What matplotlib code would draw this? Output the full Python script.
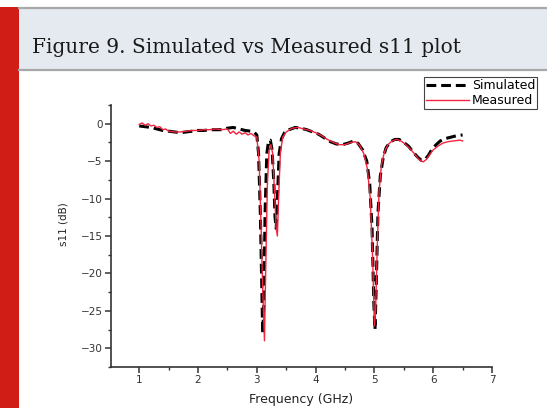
import matplotlib
matplotlib.use("Agg")
import matplotlib.pyplot as plt
from matplotlib.patches import Rectangle
from matplotlib.lines import Line2D
from matplotlib.ticker import MultipleLocator

# ---------------- data ----------------
sim_freq = [1.0, 1.1, 1.2, 1.3, 1.4, 1.5, 1.6, 1.7, 1.8, 1.9, 2.0, 2.1, 2.2, 2.3, 2.4,
            2.5, 2.6, 2.7, 2.8, 2.9, 2.95, 3.0, 3.03, 3.06, 3.08, 3.1, 3.12, 3.14, 3.17,
            3.2, 3.23, 3.26, 3.29, 3.31, 3.33, 3.35, 3.38, 3.42, 3.47, 3.55, 3.65, 3.75,
            3.85, 3.95, 4.05, 4.15, 4.25, 4.35, 4.45, 4.55, 4.65, 4.72, 4.8, 4.87, 4.92,
            4.96, 4.99, 5.01, 5.03, 5.06, 5.1, 5.15, 5.2, 5.27, 5.35, 5.42, 5.5, 5.58,
            5.66, 5.74, 5.8, 5.86, 5.92, 5.98, 6.05, 6.12, 6.2, 6.3, 6.4, 6.5]
sim_s11 = [-0.3, -0.4, -0.5, -0.7, -0.9, -1.0, -1.1, -1.2, -1.1, -1.0, -0.9, -0.9, -0.8,
           -0.8, -0.8, -0.6, -0.5, -0.7, -0.9, -1.0, -1.1, -1.5, -4.0, -12.0, -20.0, -28.0,
           -24.0, -12.0, -4.0, -2.3, -2.2, -3.5, -8.0, -12.5, -14.0, -10.0, -4.0, -2.0,
           -1.2, -0.8, -0.5, -0.6, -0.8, -1.1, -1.4, -1.9, -2.4, -2.7, -2.8, -2.6, -2.3,
           -2.6, -3.5, -5.0, -8.0, -14.0, -24.0, -27.5, -22.0, -12.0, -7.0, -4.5, -3.2,
           -2.4, -2.1, -2.1, -2.5, -3.0, -3.8, -4.5, -4.9, -4.8, -4.2, -3.4, -2.8, -2.3,
           -2.0, -1.8, -1.6, -1.5]

meas_freq = [1.0, 1.05, 1.1, 1.15, 1.2, 1.25, 1.3, 1.35, 1.4, 1.45, 1.5, 1.6, 1.7, 1.8,
             1.9, 2.0, 2.1, 2.2, 2.3, 2.4, 2.5, 2.55, 2.6, 2.65, 2.7, 2.75, 2.8, 2.85, 2.9,
             2.95, 3.0, 3.04, 3.07, 3.1, 3.13, 3.15, 3.18, 3.21, 3.24, 3.27, 3.3, 3.33,
             3.35, 3.37, 3.4, 3.44, 3.5, 3.6, 3.7, 3.8, 3.9, 4.0, 4.1, 4.2, 4.3, 4.4, 4.5,
             4.6, 4.68, 4.75, 4.82, 4.88, 4.93, 4.97, 5.0, 5.02, 5.05, 5.08, 5.12, 5.17,
             5.23, 5.3, 5.38, 5.45, 5.52, 5.6, 5.68, 5.76, 5.83, 5.88, 5.94, 6.0, 6.08,
             6.16, 6.25, 6.35, 6.45, 6.5]
meas_s11 = [-0.1, 0.1, -0.2, 0.0, -0.3, -0.2, -0.5, -0.4, -0.8, -0.7, -1.0, -1.1, -1.1,
            -1.0, -0.9, -0.9, -0.8, -0.8, -0.7, -0.8, -0.7, -1.3, -1.0, -1.4, -1.1, -1.4,
            -1.2, -1.5, -1.3, -1.6, -1.8, -5.0, -13.0, -22.0, -29.0, -20.0, -8.0, -3.5,
            -2.8, -4.0, -9.0, -14.0, -15.0, -10.0, -4.0, -1.8, -1.1, -0.6, -0.5, -0.7,
            -0.9, -1.2, -1.6, -2.1, -2.5, -2.8, -2.8, -2.5, -2.4, -2.9, -4.0, -6.0, -10.0,
            -18.0, -27.0, -25.0, -16.0, -9.0, -5.5, -3.8, -2.8, -2.3, -2.1, -2.3, -2.7,
            -3.3, -4.0, -4.8, -5.1, -4.8, -4.1, -3.5, -3.0, -2.6, -2.4, -2.3, -2.2, -2.3]

x_ticks = [1, 2, 3, 4, 5, 6, 7]
y_ticks = [0, -5, -10, -15, -20, -25, -30]
series_labels = ["Simulated", "Measured"]
title_text = "Figure 9. Simulated vs Measured s11 plot"

# ---------------- figure ----------------
W, H = 547, 408
fig = plt.figure(figsize=(W / 100, H / 100), dpi=100)
fig.patch.set_facecolor("white")

def fy(py):
    return 1 - py / H

def fx(px):
    return px / W

# red side bar
fig.patches.append(Rectangle((0, 0), fx(19), fy(7), transform=fig.transFigure,
                             facecolor="#d01e16", edgecolor="none", zorder=0))
# title band
fig.patches.append(Rectangle((fx(19), fy(70)), 1 - fx(19), fy(7) - fy(70),
                             transform=fig.transFigure, facecolor="#e4eaf0",
                             edgecolor="none", zorder=0))
for py in (7.5, 69.5):
    fig.add_artist(Line2D([fx(19), 1], [fy(py), fy(py)], transform=fig.transFigure,
                          color="#a8a8a8", lw=1.6))
fig.text(fx(32), fy(53), title_text, fontsize=14.5, family="DejaVu Serif",
         color="#1a1a1a", ha="left", va="baseline")

# axes
ax = fig.add_axes([fx(111), fy(367), fx(492) - fx(111), fy(105) - fy(367)])
ax.plot(sim_freq, sim_s11, color="black", lw=2.2, dashes=(3.2, 1.6),
        label=series_labels[0], zorder=3)
ax.plot(meas_freq, meas_s11, color="#f2243f", lw=1.0, label=series_labels[1], zorder=4)

ax.set_xlim(0.52, 7.0)
ax.set_ylim(-32.5, 2.5)
ax.set_xticks(x_ticks)
ax.set_yticks(y_ticks)
ax.xaxis.set_minor_locator(MultipleLocator(0.5))
ax.yaxis.set_minor_locator(MultipleLocator(2.5))
for s in ("top", "right"):
    ax.spines[s].set_visible(False)
for s in ("left", "bottom"):
    ax.spines[s].set_linewidth(1.2)
    ax.spines[s].set_color("#333333")
ax.tick_params(which="major", direction="out", length=4, width=1.1, colors="#333333",
               labelsize=7.5, pad=2)
ax.tick_params(which="minor", direction="out", length=2.5, width=1.0, colors="#333333")
ax.set_facecolor("none")

fig.text(fx(301), fy(399), "Frequency (GHz)", fontsize=9, ha="center", va="center",
         color="#222222")
fig.text(fx(64), fy(224), "s11 (dB)", fontsize=7.5, rotation=90, ha="center",
         va="center", color="#222222")

leg = fig.legend(loc="upper right", bbox_to_anchor=(fx(537), fy(77)),
                 bbox_transform=fig.transFigure, fontsize=9, frameon=True,
                 fancybox=False, framealpha=1, edgecolor="#444444",
                 handlelength=3.5, handletextpad=0.2, labelspacing=0.2,
                 borderpad=0.15, borderaxespad=0)
leg.get_frame().set_linewidth(0.8)

fig.savefig("out.png", dpi=100)
